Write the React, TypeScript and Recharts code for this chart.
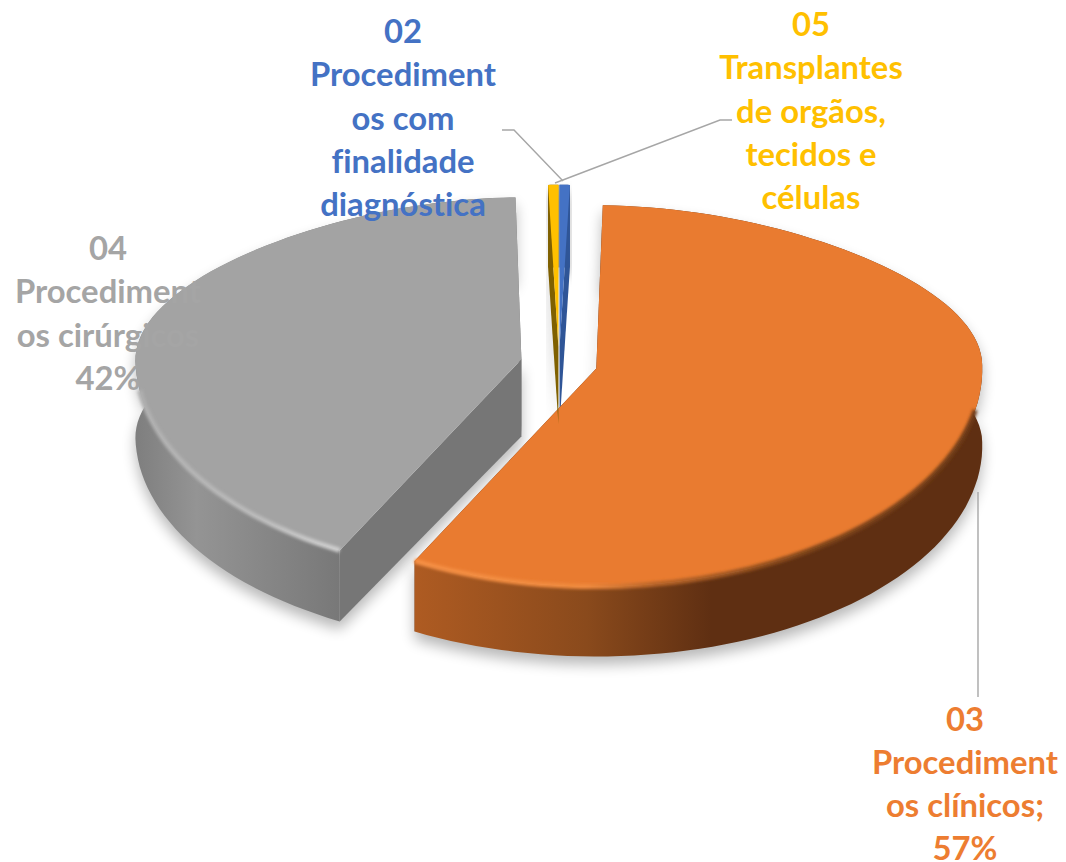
import React from "react";
import { PieChart, Pie, Cell } from "recharts";

const categories = ["02", "03", "04", "05"];
const shares = [0.5, 57.3, 41.7, 0.5];
const blueLabel = ["02", "Procediment", "os com", "finalidade", "diagnóstica"];
const orangeLabel = ["03", "Procediment", "os clínicos;", "57%"];
const grayLabel = ["04", "Procediment", "os cirúrgicos", "42%"];
const yellowLabel = ["05", "Transplantes", "de orgãos,", "tecidos e", "células"];
const labelLines = [blueLabel, orangeLabel, grayLabel, yellowLabel];

const chartData = categories.map((name, i) => ({ name, value: shares[i] }));

const W = 1066, H = 862;
const CX = 559, CY = 363, R = 386;
const K_BACK = 162, K_FRONT = 218, EXPLODE = 0.1, DEPTH = 77, LOWER_Y = 0.968, BACK_TAPER = 0.12;
const RAD = Math.PI / 180;

const palette = [
  { top: "#4472C4", face: "#2F5597", side: "#2F5597" },
  { top: "#E97B30", face: "#5F2F12", side: "url(#orangeSide)", rim: "url(#orangeRim)", rimFrom: 45, rimWidth: 5 },
  { top: "#A3A3A3", face: "#767676", side: "url(#graySide)", rim: "url(#grayRim)", rimFrom: 25, rimWidth: 5 },
  { top: "#FFC000", face: "#7F6000", side: "#7F6000" },
];

const labelLayout = [
  { x: 403, y: 43, color: "#4472C4", leader: "M502 130 L514 130 L563 181" },
  { x: 965, y: 730.5, color: "#ED7D31", leader: "M978 492 L978 697" },
  { x: 108, y: 260, color: "#A5A5A5", leader: "" },
  { x: 811, y: 36, color: "#FFC000", leader: "M555 183 L720 120 L732 120" },
];
const LINE_GAP = 43.3;

type Pt = [number, number];

function projector(cx: number, cy: number, r: number, midTheta: number) {
  const du = EXPLODE * Math.sin(midTheta * RAD);
  const dv = -EXPLODE * Math.cos(midTheta * RAD);
  return (u: number, v: number, lower: boolean): Pt => {
    const uu = u + du, vv = v + dv;
    const taper = vv < 0 ? 1 - BACK_TAPER * vv * vv : 1;
    const x = r * uu * taper, y = (vv < 0 ? K_BACK : K_FRONT) * vv;
    return lower ? [cx + x, cy + DEPTH + y * LOWER_Y] : [cx + x, cy + y];
  };
}

const toD = (pts: Pt[]) => "M" + pts.map((p) => p[0].toFixed(1) + " " + p[1].toFixed(1)).join("L") + "Z";
const toOpen = (pts: Pt[]) => "M" + pts.map((p) => p[0].toFixed(1) + " " + p[1].toFixed(1)).join("L");

function geometry(props: any) {
  const { cx, cy, outerRadius, startAngle, endAngle } = props;
  const t0 = 90 - startAngle, t1 = 90 - endAngle;
  const proj = projector(cx, cy, outerRadius, (t0 + t1) / 2);
  const n = Math.max(4, Math.ceil((t1 - t0) / 2));
  const arc = (lower: boolean) => {
    const a: Pt[] = [];
    for (let i = 0; i <= n; i++) {
      const t = (t0 + ((t1 - t0) * i) / n) * RAD;
      a.push(proj(Math.sin(t), -Math.cos(t), lower));
    }
    return a;
  };
  const top = arc(false), low = arc(true);
  const a = proj(0, 0, false), b = proj(0, 0, true);
  return { top, low, a, b };
}

function ShadowShape(props: any) {
  const { top, low, a, b } = geometry(props);
  const d = toD([a, ...top, ...low.slice().reverse(), b]);
  return <path d={d} fill="#000" opacity={0.28} filter="url(#soft)" transform="translate(0 8)" />;
}

function SliceShape(props: any) {
  const i = props.index ?? chartData.findIndex((d) => d.name === props.name);
  const c: any = palette[i];
  const { top, low, a, b } = geometry(props);
  const last = top.length - 1;
  const faceEnd = toD([a, top[last], low[last], b]);
  const faceStart = toD([a, top[0], low[0], b]);
  const side = toD([...top, ...low.slice().reverse()]);
  const front = top.filter((p) => p[1] > CY + (c.rimFrom ?? 0));
  return (
    <g>
      <path d={faceEnd} fill={c.face} />
      <path d={faceStart} fill={c.face} />
      <path d={side} fill={c.side} />
      <path d={toD([a, ...top])} fill={c.top} />
      {c.rim ? (
        <path d={toOpen(front)} fill="none" stroke={c.rim} strokeWidth={c.rimWidth} filter="url(#rimBlur)" />
      ) : null}
    </g>
  );
}

function renderLabel(props: any) {
  const i = props.index;
  const layout = labelLayout[i];
  return (
    <g key={i}>
      {layout.leader ? <path d={layout.leader} fill="none" stroke="#A6A6A6" strokeWidth={1.4} /> : null}
      <text
        x={layout.x}
        y={layout.y}
        textAnchor="middle"
        fill={layout.color}
        fontFamily="Lato, 'Liberation Sans', sans-serif"
        fontWeight={700}
        fontSize={32.8}
        style={{ fontVariantLigatures: "none" }}
      >
        {labelLines[i].map((line, k) => (
          <tspan key={k} x={layout.x} y={layout.y + k * LINE_GAP}>
            {line}
          </tspan>
        ))}
      </text>
    </g>
  );
}

export default function App() {
  return (
    <div style={{ position: "absolute", left: 0, top: 0, width: W, height: H, background: "#fff" }}>
      <PieChart width={W} height={H} margin={{ top: 0, right: 0, bottom: 0, left: 0 }}>
        <defs>
          <linearGradient id="orangeSide" gradientUnits="userSpaceOnUse" x1="415" y1="0" x2="985" y2="0">
            <stop offset="0" stopColor="#AE5B22" />
            <stop offset="0.3" stopColor="#8A4A1C" />
            <stop offset="0.52" stopColor="#5F2F12" />
            <stop offset="1" stopColor="#5F2F12" />
          </linearGradient>
          <linearGradient id="graySide" gradientUnits="userSpaceOnUse" x1="135" y1="0" x2="340" y2="0">
            <stop offset="0" stopColor="#7E7E7E" />
            <stop offset="0.3" stopColor="#949494" />
            <stop offset="1" stopColor="#787878" />
          </linearGradient>
          <linearGradient id="orangeRim" gradientUnits="userSpaceOnUse" x1="415" y1="0" x2="985" y2="0">
            <stop offset="0" stopColor="#F69045" />
            <stop offset="0.3" stopColor="#EF893D" />
            <stop offset="0.42" stopColor="#B96529" />
            <stop offset="0.7" stopColor="#7E4418" />
            <stop offset="1" stopColor="#6E3A15" />
          </linearGradient>
          <linearGradient id="grayRim" gradientUnits="userSpaceOnUse" x1="135" y1="0" x2="340" y2="0">
            <stop offset="0" stopColor="#AFAFAF" />
            <stop offset="0.6" stopColor="#BBBBBB" />
            <stop offset="1" stopColor="#CFCFCF" />
          </linearGradient>
          <filter id="soft" x="-20%" y="-20%" width="140%" height="140%">
            <feGaussianBlur stdDeviation="7" />
          </filter>
          <filter id="rimBlur" x="-10%" y="-10%" width="120%" height="120%">
            <feGaussianBlur stdDeviation="1.6" />
          </filter>
        </defs>
        <Pie
          data={chartData}
          dataKey="value"
          nameKey="name"
          cx={CX}
          cy={CY}
          outerRadius={R}
          startAngle={90}
          endAngle={-270}
          stroke="none"
          label={false}
          labelLine={false}
          isAnimationActive={false}
          shape={ShadowShape}
        />
        <Pie
          data={chartData}
          dataKey="value"
          nameKey="name"
          cx={CX}
          cy={CY}
          outerRadius={R}
          startAngle={90}
          endAngle={-270}
          stroke="none"
          label={renderLabel}
          labelLine={false}
          isAnimationActive={false}
          shape={SliceShape}
        >
          {chartData.map((d, i) => (
            <Cell key={d.name} fill={palette[i].top} />
          ))}
        </Pie>
      </PieChart>
    </div>
  );
}
